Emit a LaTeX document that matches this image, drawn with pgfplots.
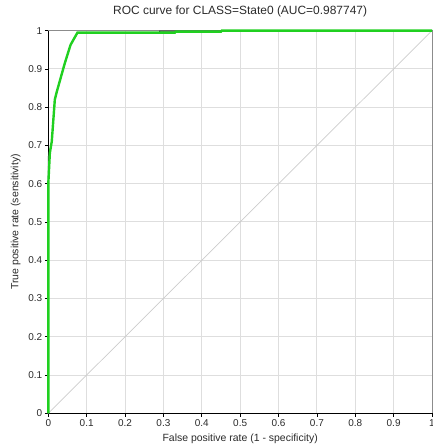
\documentclass[border=0pt]{standalone}
\usepackage{fontspec}
\setmainfont{Liberation Sans}
\usepackage{pgfplots}
\pgfplotsset{compat=1.18}
\definecolor{roc}{RGB}{32,208,32}
\definecolor{txt}{HTML}{2A2A2A}
\begin{document}
\begin{tikzpicture}
\begin{axis}[scale only axis, width=383.7bp, height=382.6bp,
  xmin=0, xmax=1, ymin=0, ymax=1, clip=false,
  xtick={0,0.1,...,1}, ytick={0,0.1,...,1},
  xtick pos=bottom, ytick pos=left, tick align=outside,
  major tick length=3.5bp, tick style={black, line width=0.6bp},
  grid=major, grid style={draw=black!13, line width=1bp},
  axis line style={draw=none},
  tick label style={font=\fontsize{10}{10}\selectfont, text=txt},
  /pgf/number format/assume math mode=true,
  xticklabel style={yshift=1bp},
  yticklabel style={xshift=1bp},
  title={ROC curve for CLASS=State0 (AUC=0.987747)},
  title style={font=\fontsize{12}{12}\selectfont, text=txt, at={(0.5,1)}, anchor=center, yshift=13bp},
  xlabel={False positive rate (1 - specificity)},
  xlabel style={font=\fontsize{10.5}{10.5}\selectfont, text=txt, at={(axis description cs:0.5,-0.066)}, anchor=center},
  ylabel={True positive rate (sensitivity)},
  ylabel style={font=\fontsize{10.5}{10.5}\selectfont, text=txt, at={(axis description cs:-0.085,0.5)}, anchor=center},
]
\coordinate (sw) at (rel axis cs:0,0);
\coordinate (ne) at (rel axis cs:1,1);
\draw[black!45, line width=0.8bp] (rel axis cs:0,1) -- (rel axis cs:1,1) -- (rel axis cs:1,0);
\draw[black, line width=1bp] (rel axis cs:0,1) -- (rel axis cs:0,0) -- (rel axis cs:1,0);
\addplot[black!20, line width=0.7bp] coordinates {(0,0) (1,1)};
\addplot[black!85, line width=0.9bp] coordinates {(0,0) (0,0.67) (0.009,0.71) (0.017,0.82) (0.022,0.84) (0.043,0.915) (0.058,0.963) (0.076,0.995) (0.29,0.995) (0.29,0.999) (0.39,0.999) (0.45,0.999) (0.452,1) (1,1)};
\addplot[roc, line width=2.4bp] coordinates {(0,0) (0,0.60) (0.004,0.68) (0.009,0.71) (0.017,0.82) (0.022,0.84) (0.043,0.915) (0.058,0.963) (0.076,0.995) (0.33,0.995) (0.332,0.9975) (0.45,0.9975) (0.452,1) (1,1)};
\end{axis}
\pgfresetboundingbox
\path ([xshift=-48.3bp,yshift=-31.7bp]sw) rectangle ([xshift=1bp,yshift=30.7bp]ne);
\end{tikzpicture}
\end{document}
